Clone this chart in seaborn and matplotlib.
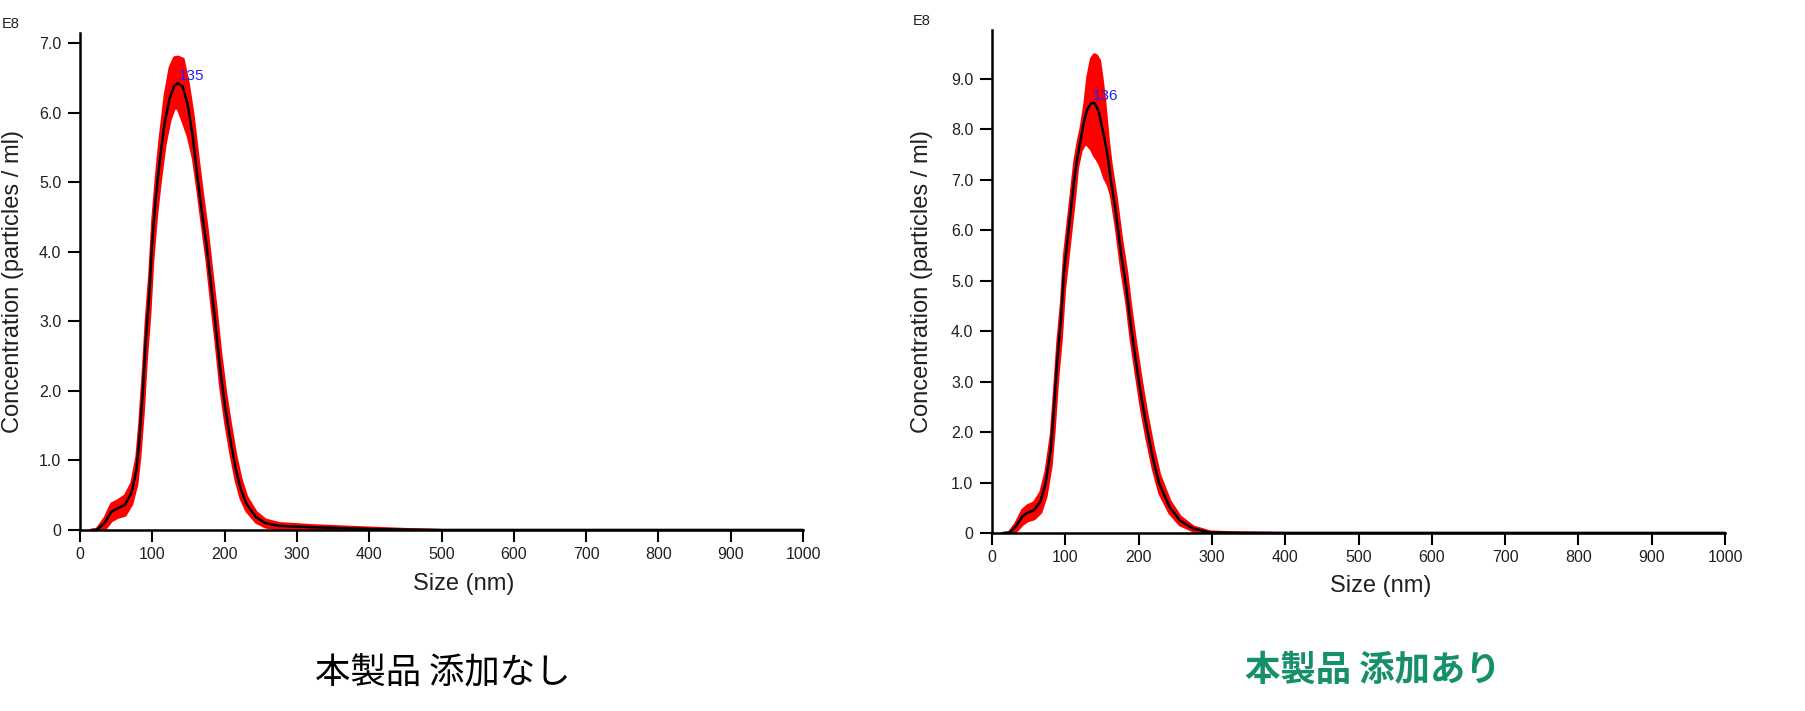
import numpy as np
import pandas as pd
import matplotlib
matplotlib.use('Agg')
import matplotlib.pyplot as plt
import seaborn as sns

# Panel izquierdo: sin aditivo
size_l = [15, 23, 34, 43, 52, 62, 71, 78, 82, 87,
          91, 96, 100, 105, 110, 117, 124, 130, 135, 142,
          149, 156, 162, 169, 175, 181, 187, 194, 201, 208,
          215, 222, 230, 243, 256, 275, 320, 400, 450, 500, 1000]
conc_l = [0, 0, 0.10, 0.26, 0.31, 0.36, 0.53, 0.86, 1.29, 2.01,
          2.73, 3.41, 4.17, 4.80, 5.28, 5.85, 6.21, 6.38, 6.43, 6.38,
          6.12, 5.66, 5.12, 4.55, 4.10, 3.55, 3.00, 2.30, 1.75, 1.30,
          0.90, 0.60, 0.38, 0.19, 0.10, 0.06, 0.04, 0.015, 0.005, 0, 0]
err_hi_l = [0, 0.02, 0.08, 0.12, 0.12, 0.14, 0.15, 0.2, 0.25, 0.3,
            0.3, 0.3, 0.3, 0.3, 0.35, 0.4, 0.45, 0.42, 0.38, 0.4,
            0.32, 0.3, 0.3, 0.28, 0.26, 0.25, 0.25, 0.25, 0.22, 0.2,
            0.17, 0.14, 0.1, 0.07, 0.05, 0.04, 0.03, 0.02, 0.01, 0, 0]
err_lo_l = [0, 0.02, 0.08, 0.12, 0.12, 0.14, 0.15, 0.2, 0.25, 0.3,
            0.3, 0.3, 0.3, 0.3, 0.3, 0.3, 0.3, 0.3, 0.36, 0.5,
            0.45, 0.3, 0.2, 0.2, 0.22, 0.25, 0.25, 0.25, 0.22, 0.2,
            0.17, 0.14, 0.1, 0.07, 0.05, 0.04, 0.03, 0.02, 0.01, 0, 0]
peak_l = 135

# Panel derecho: con aditivo
size_r = [15, 23, 32, 41, 48, 57, 66, 73, 80, 84,
          89, 94, 98, 105, 112, 116, 121, 126, 130, 135,
          139, 142, 146, 149, 153, 158, 162, 169, 176, 183,
          189, 196, 203, 210, 219, 228, 242, 256, 274, 297,
          330, 400, 1000]
conc_r = [0, 0, 0.12, 0.32, 0.40, 0.45, 0.62, 0.98, 1.64, 2.37,
          3.43, 4.22, 5.15, 6.07, 7.00, 7.40, 7.80, 8.19, 8.40, 8.51,
          8.53, 8.47, 8.33, 8.12, 7.85, 7.45, 7.00, 6.34, 5.54, 4.88,
          4.15, 3.43, 2.76, 2.17, 1.51, 0.98, 0.52, 0.25, 0.09, 0.01,
          0.003, 0, 0]
err_hi_r = [0, 0.02, 0.08, 0.14, 0.15, 0.16, 0.2, 0.25, 0.3, 0.35,
            0.35, 0.35, 0.35, 0.35, 0.35, 0.3, 0.25, 0.33, 0.65, 0.9,
            0.96, 1.0, 1.04, 0.95, 0.73, 0.34, 0.3, 0.3, 0.3, 0.3,
            0.3, 0.28, 0.28, 0.25, 0.22, 0.18, 0.12, 0.08, 0.04, 0.02,
            0.01, 0, 0]
err_lo_r = [0, 0.02, 0.08, 0.14, 0.15, 0.16, 0.2, 0.25, 0.3, 0.35,
            0.35, 0.35, 0.35, 0.35, 0.35, 0.15, 0.21, 0.47, 0.7, 0.9,
            1.04, 1.04, 1.0, 0.9, 0.81, 0.55, 0.3, 0.3, 0.3, 0.3,
            0.3, 0.28, 0.28, 0.25, 0.22, 0.18, 0.12, 0.08, 0.04, 0.02,
            0.01, 0, 0]
peak_r = 136

x_ticks = [0, 100, 200, 300, 400, 500, 600, 700, 800, 900, 1000]
y_ticks_l = [0, 1, 2, 3, 4, 5, 6, 7]
y_ticks_r = [0, 1, 2, 3, 4, 5, 6, 7, 8, 9]

caption_l = '本製品 添加なし'
caption_r = '本製品 添加あり'

sns.set_style('ticks')
plt.rcParams['font.family'] = ['Liberation Sans', 'Noto Sans CJK JP']

fig = plt.figure(figsize=(18.05, 7.11), dpi=100)
ax_l = fig.add_axes([0.0443, 0.2546, 0.4006, 0.6990])
ax_r = fig.add_axes([0.5496, 0.2504, 0.4061, 0.7074])


def dibujar_panel(ax, size, conc, err_hi, err_lo, peak, y_ticks, ytop):
    df = pd.DataFrame({'size': size, 'conc': conc,
                       'hi': np.array(conc) + np.array(err_hi),
                       'lo': np.clip(np.array(conc) - np.array(err_lo), 0, None)})
    ax.fill_between(df['size'], df['lo'], df['hi'], color='#ff0000', lw=2.2,
                    edgecolor='#ff0000', zorder=2)
    sns.lineplot(data=df, x='size', y='conc', color='black', lw=1.8, ax=ax,
                 zorder=3, clip_on=False)
    ax.text(peak + 2, df['conc'].max() + 0.1 * ytop / 7.15, str(peak),
            color='#2020ff', fontsize=11, ha='left', va='center', zorder=4)

    ax.set_xlim(0, 1000)
    ax.set_ylim(0, ytop)
    ax.set_xticks(x_ticks)
    ax.set_yticks(y_ticks)
    ax.set_yticklabels(['0' if v == 0 else f'{v:.1f}' for v in y_ticks])
    ax.tick_params(axis='both', direction='out', length=8.5, width=1.5,
                   labelsize=11.5, labelcolor='#202020', color='black')
    ax.tick_params(axis='x', pad=4)
    ax.tick_params(axis='y', pad=5)
    for s in ['top', 'right']:
        ax.spines[s].set_visible(False)
    for s in ['left', 'bottom']:
        ax.spines[s].set_linewidth(1.8)
        ax.spines[s].set_color('black')
    ax.set_xlabel('Size (nm)', fontsize=17, color='#202020')
    ax.set_ylabel('Concentration (particles / ml)', fontsize=17, color='#202020')


dibujar_panel(ax_l, size_l, conc_l, err_hi_l, err_lo_l, peak_l, y_ticks_l, 7.15)
dibujar_panel(ax_r, size_r, conc_r, err_hi_r, err_lo_r, peak_r, y_ticks_r, 9.97)

ax_l.xaxis.set_label_coords(0.530, -0.086)
ax_l.yaxis.set_label_coords(-0.078, 0.5)
ax_r.xaxis.set_label_coords(0.530, -0.084)
ax_r.yaxis.set_label_coords(-0.080, 0.5)

# Multiplicador del eje
fig.text(11 / 1805, 1 - 24 / 711, 'E8', fontsize=10.5, color='#202020', ha='center', va='center')
fig.text(922 / 1805, 1 - 21 / 711, 'E8', fontsize=10.5, color='#202020', ha='center', va='center')

# Leyendas de cada panel
fig.text(443 / 1805, 1 - 673 / 711, caption_l, fontsize=25.5, color='black',
         ha='center', va='center', family=['Noto Sans CJK JP'])
fig.text(1373 / 1805, 1 - 670 / 711, caption_r, fontsize=25.5, color='#16906b',
         fontweight='bold', ha='center', va='center', family=['Noto Sans CJK JP'])

fig.savefig('out.png', dpi=100)
